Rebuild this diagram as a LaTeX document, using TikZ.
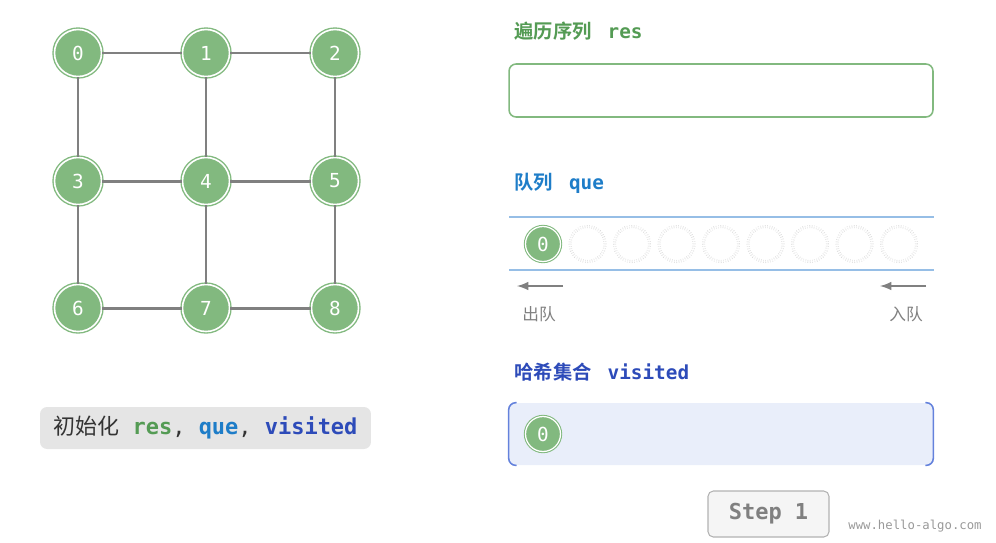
\documentclass[tikz,border=0pt]{standalone}
\usepackage{fontspec}
\setmonofont{DejaVu Sans Mono}
\newfontfamily\cjk{Noto Sans CJK SC}[BoldFont={Noto Sans CJK SC Bold}]
\usetikzlibrary{positioning}
\definecolor{ngreen}{RGB}{130,185,127}
\definecolor{tgreen}{RGB}{84,155,84}
\definecolor{tblue}{RGB}{30,125,200}
\definecolor{tdblue}{RGB}{45,75,185}
\definecolor{qline}{RGB}{150,190,230}
\definecolor{vfill}{RGB}{233,238,250}
\definecolor{vedge}{RGB}{100,130,220}
\definecolor{egray}{RGB}{128,128,128}
\tikzset{
  vert/.style={circle, fill=ngreen, draw=ngreen, double=white, double distance=0.9pt,
    line width=0.8pt, minimum size=0.94cm, inner sep=0pt, text=white,
    font=\ttfamily\fontsize{11}{11}\selectfont},
  qvert/.style={vert, minimum size=0.70cm, line width=0.6pt, double distance=0.7pt},
  qcell/.style={circle, draw=gray!40, densely dotted, double=white, double distance=1.1pt,
    line width=0.3pt, minimum size=0.70cm, inner sep=0pt},
  edge/.style={draw=egray, line width=1.7pt},
  title/.style={anchor=west, inner sep=0pt, font=\cjk\bfseries\fontsize{11}{11}\selectfont},
}
\begin{document}
\begin{tikzpicture}[x=0.02cm, y=-0.02cm]
  \useasboundingbox (0,0) rectangle (996,542);
  % graph
  \foreach \i/\x/\y in {0/78/53, 1/206/53, 2/335/53, 3/78/181, 4/206/181, 5/335/181, 6/78/308, 7/206/308, 8/335/308}
    \node[vert] (v\i) at (\x,\y) {\i};
  \foreach \a/\b in {0/1, 1/2, 0/3, 1/4, 2/5, 3/4, 4/5, 3/6, 4/7, 5/8, 6/7, 7/8}
    \draw[edge] (v\a) -- (v\b);
  \node[fill=gray!20, rounded corners=4pt, minimum width=6.62cm, minimum height=0.84cm, inner sep=0pt,
    font=\cjk\fontsize{12.5}{12.5}\selectfont, text=black!80] (init) at (205.5,428)
    {初始化{\ttfamily\ {\bfseries\color{tgreen}res},\ {\bfseries\color{tblue}que},\ {\bfseries\color{tdblue}visited}}};
  % res
  \node[title, text=tgreen] (restitle) at (514,31) {遍历序列{\ttfamily\ \hspace{2.5pt}res}};
  \node[draw=ngreen, line width=0.9pt, rounded corners=4pt, minimum width=8.48cm, minimum height=1.06cm] (res) at (721,90.5) {};
  % que
  \node[title, text=tblue] (quetitle) at (514,183) {队列{\ttfamily\ \hspace{2.5pt}que}};
  \draw[qline, line width=0.7pt] (509,217) -- (934,217);
  \draw[qline, line width=0.7pt] (509,270) -- (934,270);
  \node[qvert] (q0) at (543,244) {0};
  \foreach \i in {1,...,8}
    \node[qcell] (q\i) at (543+44.5*\i,244) {};
  \coordinate (outA) at (563,286);
  \coordinate (outB) at (517,286);
  \coordinate (inA) at (926,286);
  \coordinate (inB) at (880,286);
  \draw[-latex, egray, line width=1.2pt] (outA) -- (outB);
  \draw[-latex, egray, line width=1.2pt] (inA) -- (inB);
  \node[font=\cjk\fontsize{9.5}{9.5}\selectfont, text=gray] (deq) at (539,314) {出队};
  \node[font=\cjk\fontsize{9.5}{9.5}\selectfont, text=gray] (enq) at (906,314) {入队};
  % visited
  \node[title, text=tdblue] (vistitle) at (514,372) {哈希集合{\ttfamily\ \hspace{2.5pt}visited}};
  \node[fill=vfill, rounded corners=4pt, minimum width=8.48cm, minimum height=1.24cm, inner sep=0pt] (vis) at (721,434) {};
  \draw[vedge, line width=0.9pt, rounded corners=4pt] (vis.north west) ++(8,0) -- (vis.north west) -- (vis.south west) -- ++(8,0);
  \draw[vedge, line width=0.9pt, rounded corners=4pt] (vis.north east) ++(-8,0) -- (vis.north east) -- (vis.south east) -- ++(-8,0);
  \node[qvert] (s0) at (543,434) {0};
  % step
  \node[fill=gray!8, draw=gray!60, line width=0.6pt, rounded corners=3pt, minimum width=2.42cm, minimum height=0.92cm,
    font=\ttfamily\bfseries\fontsize{12.5}{12.5}\selectfont, text=gray] (step1) at (768.5,514) {Step 1};
  \node[font=\ttfamily\fontsize{7}{7}\selectfont, text=gray!80] (url) at (915,526) {www.hello-algo.com};
\end{tikzpicture}
\end{document}
